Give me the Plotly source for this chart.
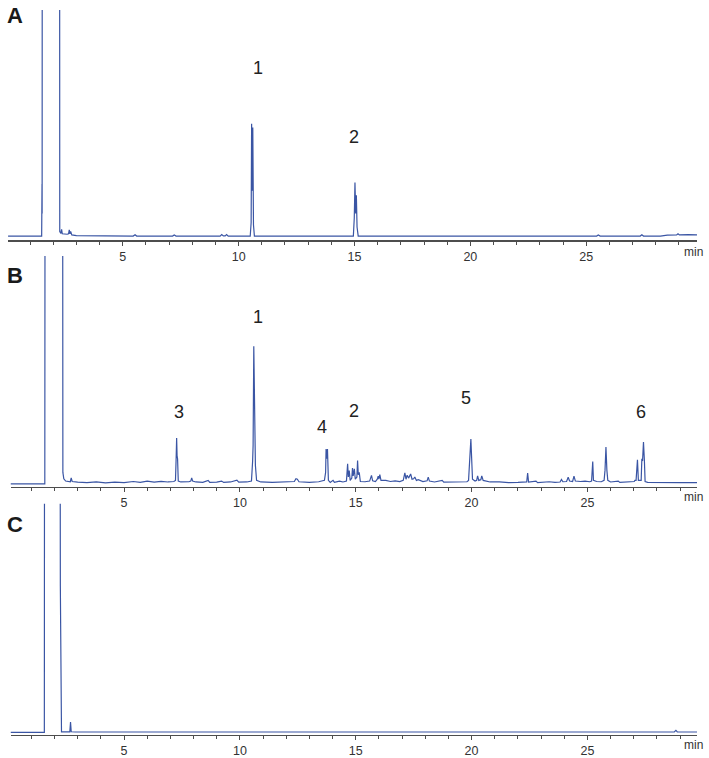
import plotly.graph_objects as go

# ---------------- data (retention time in min, relative signal in %) ----------------
a_time = [0.05, 1.47, 1.50, 1.515, 1.52, 1.53, 2.27, 2.28, 2.30, 2.33, 2.36, 2.39, 2.60, 2.66, 2.69, 2.72,
          2.75, 2.77, 2.80, 3.00, 5.45, 5.53, 5.60, 7.15, 7.22, 7.30, 9.20, 9.27, 9.34, 9.42, 9.48, 9.55,
          10.50, 10.54, 10.56, 10.585, 10.61, 10.64, 10.68, 14.95, 14.99, 15.02, 15.05, 15.08, 15.11, 15.16,
          25.45, 25.52, 25.60, 27.33, 27.40, 27.47, 28.20, 28.50, 28.90, 28.96, 29.02, 29.40, 29.78]
a_signal = [0, 0, 0, 23, 10, 300, 300, 2, 1.5, 1.2, 3, 1.0, 0.8, 1.0, 2.8, 1.0, 2.0, 1.0, 0.5, 0.2, 0, 0.6, 0,
            0, 0.5, 0, 0, 0.7, 0.1, 0.1, 0.7, 0, 0, 6, 49.7, 20, 48, 5, 0, 0, 8, 23.7, 10, 18, 4, 0,
            0, 0.5, 0, 0, 0.6, 0, 0, 0.4, 0.5, 1.0, 0.5, 0.6, 0.5]

b_time = [0.10, 1.58, 1.60, 2.34, 2.36, 2.40, 2.48, 2.68, 2.72, 2.76, 3.0, 3.4, 3.8, 4.2, 4.6, 5.0, 5.4, 5.7,
          6.0, 6.3, 6.6, 6.9, 7.15, 7.22, 7.25, 7.27, 7.29, 7.31, 7.34, 7.45, 7.8, 7.88, 7.92, 7.96, 8.1, 8.4,
          8.63, 8.7, 9.0, 9.21, 9.3, 9.6, 9.87, 9.95, 10.3, 10.50, 10.55, 10.57, 10.60, 10.62, 10.64, 10.67,
          10.72, 10.9, 11.4, 11.9, 12.35, 12.42, 12.48, 12.55, 13.0, 13.4, 13.65, 13.70, 13.72, 13.75, 13.78,
          13.82, 13.9, 14.02, 14.08, 14.3, 14.45, 14.6, 14.65, 14.68, 14.72, 14.76, 14.83, 14.86, 14.89, 14.94,
          14.98, 15.05, 15.08, 15.11, 15.15, 15.20, 15.4, 15.6, 15.68, 15.73, 15.85, 15.93, 15.97, 16.00, 16.04,
          16.09, 16.3, 16.5, 16.7, 16.9, 17.05, 17.12, 17.17, 17.22, 17.28, 17.37, 17.43, 17.50, 17.55, 17.62,
          17.7, 17.9, 18.08, 18.13, 18.18, 18.4, 18.73, 18.8, 19.3, 19.8, 19.87, 19.91, 19.93, 19.97, 20.00,
          20.04, 20.15, 20.22, 20.26, 20.31, 20.40, 20.44, 20.50, 20.6, 20.8, 21.2, 21.6, 22.0, 22.38, 22.42,
          22.46, 22.78, 22.85, 23.35, 23.6, 23.82, 23.88, 23.94, 24.1, 24.17, 24.23, 24.36, 24.42, 24.48, 24.7,
          24.9, 25.1, 25.18, 25.20, 25.23, 25.26, 25.4, 25.6, 25.72, 25.76, 25.80, 25.84, 25.88, 26.0, 26.33,
          26.4, 26.8, 27.02, 27.05, 27.10, 27.16, 27.20, 27.32, 27.35, 27.38, 27.42, 27.46, 27.49, 27.6, 28.0,
          28.5, 29.0, 29.73]
b_signal = [0, 0, 300, 300, 5, 2.2, 1.2, 0.9, 2.6, 1.0, 0.7, 0.5, 0.8, 0.4, 0.7, 0.5, 1.0, 0.6,
            1.2, 0.7, 1.1, 0.8, 1.0, 1.5, 11.8, 20.1, 12, 11, 1.2, 0.8, 0.9, 1.2, 2.6, 1.2, 0.8, 0.6,
            1.5, 0.6, 0.7, 1.2, 0.6, 0.8, 1.6, 0.7, 0.8, 1.2, 10, 16.8, 60.4, 45, 16.8, 8,
            1.5, 0.8, 0.6, 0.8, 1.0, 2.2, 2.0, 0.9, 0.6, 0.9, 1.5, 5, 15.3, 11, 15.3,
            1.5, 0.6, 1.5, 0.6, 1.2, 0.8, 1.2, 8.8, 3, 5.8, 1.5, 2.5, 6.9, 3.5, 6.6,
            2, 3, 10.2, 4, 5, 1.0, 0.9, 1.2, 3.7, 1.3, 1.0, 2.0, 3.4, 2, 4,
            1.5, 1.5, 1.0, 1.3, 1.0, 1.5, 4.8, 2, 3.8, 2.5, 4.3, 2, 2.2, 3.0, 1.5,
            1.8, 1.0, 1.3, 2.9, 1.2, 0.8, 1.5, 0.7, 0.7, 0.9, 1.5, 10, 16, 19.7, 12,
            2, 1.2, 1.5, 3.5, 1.5, 1.8, 3.5, 1.5, 1.2, 0.8, 0.8, 0.5, 0.6, 0.8, 4.7,
            0.8, 1.2, 0.5, 0.9, 0.6, 0.8, 1.9, 0.9, 1.0, 2.9, 1.2, 1.0, 3.4, 1.2, 1.0,
            1.2, 0.9, 1.2, 9.8, 9.8, 1.5, 1.0, 0.9, 1.5, 6, 16.1, 6, 1.5, 0.8, 1.2,
            0.6, 0.7, 1.0, 1.5, 1.5, 10.5, 1.5, 1.5, 11, 10, 18.3, 10, 1, 0.6, 0.5,
            0.6, 0.5, 0.5]

c_time = [0.10, 1.56, 1.575, 2.225, 2.25, 2.30, 2.66, 2.69, 2.72, 2.90, 28.75, 28.82, 28.88, 29.73]
c_signal = [0, 0, 300, 300, 64, 0.3, 0.3, 4.5, 0.3, 0.2, 0.2, 0.9, 0.2, 0.2]

tick_vals = [5, 10, 15, 20, 25]
tick_text = ["5", "10", "15", "20", "25"]

panel_letters = ["A", "B", "C"]
a_labels = ["1", "2"]
a_label_t = [10.84, 14.98]
a_label_y = [74.4, 44.0]
b_labels = ["3", "1", "4", "2", "5", "6"]
b_label_t = [7.37, 10.78, 13.53, 14.92, 19.74, 27.30]
b_label_y = [31.4, 73.1, 25.1, 31.8, 37.5, 31.4]

assert len(a_time) == len(a_signal)
assert len(b_time) == len(b_signal)
assert len(c_time) == len(c_signal)

# ---------------- figure ----------------
W, H = 709, 758
LINE = "#3a55a4"
AX = "#4d4d4d"
FONT = "Liberation Sans, Arial, Helvetica, sans-serif"


def ydom(top, bottom):
    return [1 - bottom / H, 1 - top / H]


def xdom(left, right):
    return [left / W, right / W]


fig = go.Figure()
for t, s, xa, ya in [(a_time, a_signal, "x", "y"), (b_time, b_signal, "x2", "y2"), (c_time, c_signal, "x3", "y3")]:
    fig.add_trace(go.Scatter(x=t, y=s, mode="lines", line=dict(color=LINE, width=1.2),
                             xaxis=xa, yaxis=ya, showlegend=False, hoverinfo="skip"))


def xaxis(domain, rng, anchor):
    return dict(domain=domain, range=rng, anchor=anchor, showline=True, linecolor=AX, linewidth=1.2,
                ticks="outside", ticklen=4, tickwidth=1, tickcolor=AX,
                tickmode="array", tickvals=tick_vals, ticktext=tick_text,
                minor=dict(ticks="outside", ticklen=3, tickwidth=1, tickcolor=AX,
                           tickmode="linear", tick0=0, dtick=1, showgrid=False),
                showgrid=False, zeroline=False, tickfont=dict(size=12.5, color="#333333", family=FONT),
                fixedrange=True)


def yaxis(domain, rng, anchor):
    return dict(domain=domain, range=rng, anchor=anchor, visible=False, fixedrange=True)


fig.update_layout(
    width=W, height=H, margin=dict(l=0, r=0, t=0, b=0),
    paper_bgcolor="white", plot_bgcolor="white",
    font=dict(family=FONT),
    xaxis=xaxis(xdom(8, 697), [0.047, 29.78], "y"),
    yaxis=yaxis(ydom(10, 241), [-1.9, 100], "x"),
    xaxis2=xaxis(xdom(10.5, 697), [0.099, 29.73], "y2"),
    yaxis2=yaxis(ydom(256.7, 488.5), [-1.5, 100], "x2"),
    xaxis3=xaxis(xdom(10.5, 697), [0.099, 29.73], "y3"),
    yaxis3=yaxis(ydom(505, 736.7), [-1.0, 100], "x3"),
)

ann = []
# panel letters
for letter, ypx in zip(panel_letters, [15.3, 276.7, 525.7]):
    ann.append(dict(text="<b>%s</b>" % letter, x=15 / W, y=1 - ypx / H, xref="paper", yref="paper",
                    xanchor="center", yanchor="middle", showarrow=False,
                    font=dict(size=22, color="#1a1a1a", family=FONT)))
# "min" axis units
for ypx in [253, 498, 747]:
    ann.append(dict(text="min", x=693 / W, y=1 - ypx / H, xref="paper", yref="paper",
                    xanchor="center", yanchor="middle", showarrow=False,
                    font=dict(size=12, color="#333333", family=FONT)))
# peak labels
for lab, t, v in zip(a_labels, a_label_t, a_label_y):
    ann.append(dict(text=lab, x=t, y=v, xref="x", yref="y", xanchor="center", yanchor="middle",
                    showarrow=False, font=dict(size=18, color="#222222", family=FONT)))
for lab, t, v in zip(b_labels, b_label_t, b_label_y):
    ann.append(dict(text=lab, x=t, y=v, xref="x2", yref="y2", xanchor="center", yanchor="middle",
                    showarrow=False, font=dict(size=18, color="#222222", family=FONT)))
fig.update_layout(annotations=ann)

fig.write_html(
    "out.html",
    config={"displayModeBar": False, "staticPlot": True},
    post_script="document.body.style.margin='0';document.body.style.overflow='hidden';",
)
